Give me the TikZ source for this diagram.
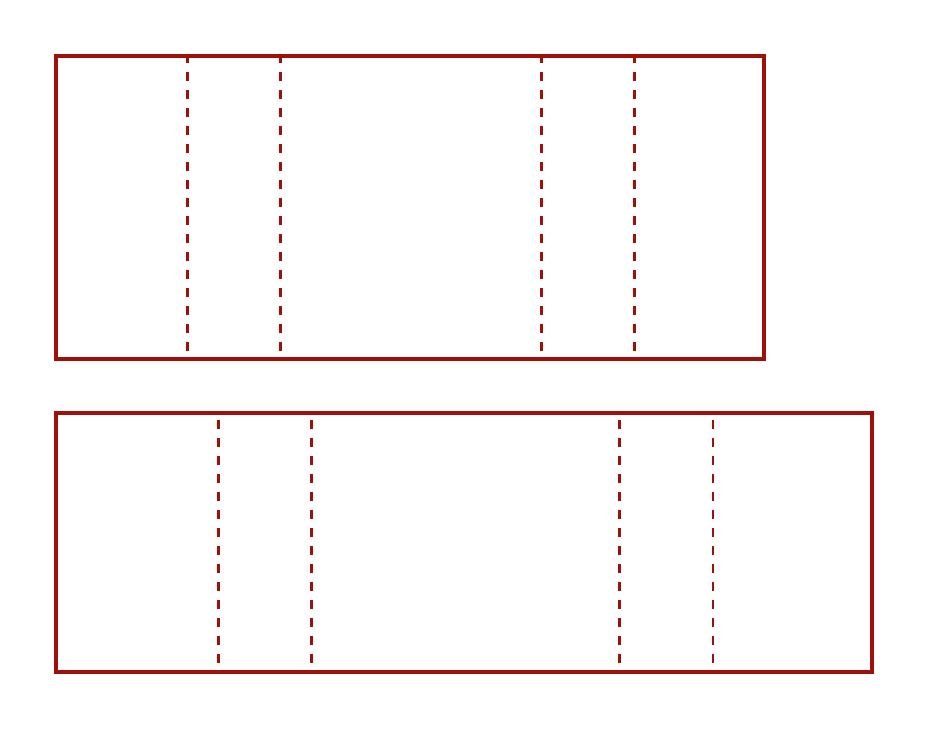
\documentclass[tikz,border=0pt]{standalone}
\usepackage{tikz}
\definecolor{darkred}{RGB}{160,16,8}

\begin{document}
\begin{tikzpicture}[x=1pt, y=-1pt,
    frame/.style={darkred, line width=3.1pt},
    fold/.style={darkred, line width=3pt, dash pattern=on 9pt off 9pt}]
  \useasboundingbox (0,0) rectangle (928,729);

  % Upper strip
  \draw[frame] (56,56) rectangle (764,359);
  \foreach \x in {187,280,541,634}
    \draw[fold, dash phase=2.3pt] (\x,56) -- (\x,351);

  % Lower strip
  \draw[frame] (56,413) rectangle (872,672);
  \foreach \x in {218,311,619}
    \draw[fold, dash phase=0.5pt] (\x,420) -- (\x,663);
  \draw[fold, line width=2.4pt, dash phase=0.5pt] (713,420) -- (713,663);
\end{tikzpicture}
\end{document}
